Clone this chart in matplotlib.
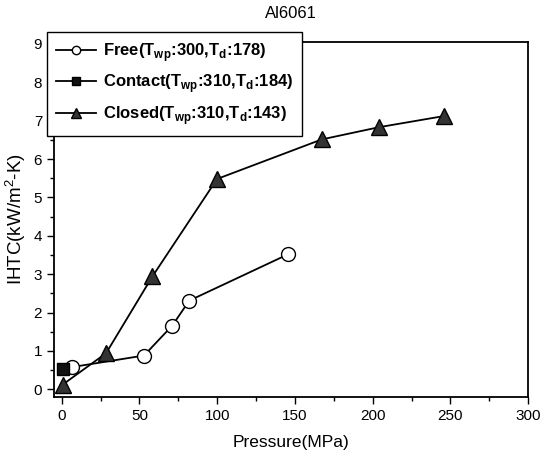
import numpy as np
import matplotlib.pyplot as plt
from matplotlib.ticker import MultipleLocator

plt.rcParams['font.family'] = ['Liberation Sans', 'DejaVu Sans']
plt.rcParams['mathtext.fontset'] = 'custom'
plt.rcParams['mathtext.rm'] = 'Liberation Sans'
plt.rcParams['mathtext.bf'] = 'Liberation Sans:bold'

# datos
free_p = [6.8, 52.9, 71.1, 82, 145.7]
free_h = [0.58, 0.88, 1.66, 2.31, 3.52]

contact_p = [0.5]
contact_h = [0.52]

closed_p = [0.5, 28.5, 58.3, 99.9, 167.2, 204.2, 246]
closed_h = [0.12, 0.94, 2.94, 5.48, 6.51, 6.83, 7.12]

labels = [r'Free(T$_{\mathbf{wp}}$:300,T$_{\mathbf{d}}$:178)',
          r'Contact(T$_{\mathbf{wp}}$:310,T$_{\mathbf{d}}$:184)',
          r'Closed(T$_{\mathbf{wp}}$:310,T$_{\mathbf{d}}$:143)']

fig = plt.figure(figsize=(5.4, 4.54), dpi=100)
ax = fig.add_axes([0.1, 0.1256, 0.878, 0.782])

ax.plot(free_p, free_h, '-', c='k', lw=1.3, marker='o', ms=10,
        mfc='white', mec='k', mew=1.0, label=labels[0], zorder=3)
ax.plot(contact_p, contact_h, '-', c='k', lw=1.3, marker='s', ms=9,
        mfc='#111111', mec='k', label=labels[1], zorder=4)
ax.plot(closed_p, closed_h, '-', c='k', lw=1.3, marker='^', ms=12,
        mfc='#333333', mec='k', mew=1.0, label=labels[2], zorder=3)

ax.set_xlim(-5, 300)
ax.set_ylim(-0.2, 9.05)
ax.xaxis.set_major_locator(MultipleLocator(50))
ax.xaxis.set_minor_locator(MultipleLocator(25))
ax.yaxis.set_major_locator(MultipleLocator(1))
ax.yaxis.set_minor_locator(MultipleLocator(0.5))
ax.tick_params(which='both', direction='out', top=False, right=False, labelsize=11)
ax.tick_params(which='major', length=5, width=1)
ax.tick_params(which='minor', length=3, width=1)
for s in ax.spines.values():
    s.set_linewidth(1.3)

ax.set_xlabel('Pressure(MPa)', fontsize=12.5, labelpad=9)
ax.set_ylabel(r'IHTC(kW/m$^2$-K)', fontsize=13.5, labelpad=4)
ax.set_title('Al6061', fontsize=12, pad=17)

leg = ax.legend(loc='upper left', bbox_to_anchor=(-0.015, 1.028), borderaxespad=0,
                frameon=True, fancybox=False, edgecolor='k', framealpha=1,
                prop={'weight': 'bold', 'size': 12}, handlelength=2.4,
                handletextpad=0.4, borderpad=0.55, labelspacing=0.5,
                markerscale=0.6)
leg.get_frame().set_linewidth(1.0)

fig.savefig('out.png', dpi=100)
